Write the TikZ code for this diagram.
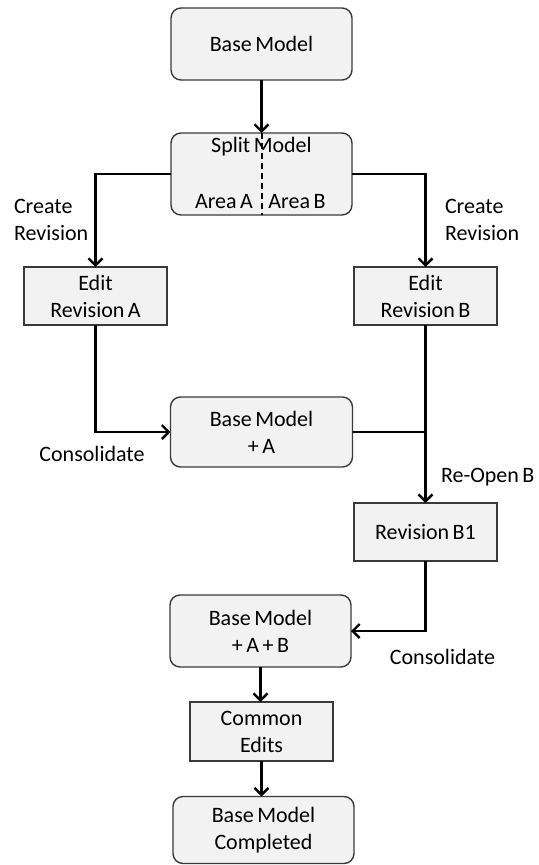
\documentclass[tikz,border=0pt]{standalone}
\usepackage{fontspec}
\setmainfont{Carlito}[WordSpace=0.7]
\usetikzlibrary{arrows.meta}
\definecolor{boxfill}{HTML}{F2F2F2}
\definecolor{boxline}{HTML}{3A3A3A}
\begin{document}
\begin{tikzpicture}[x=1bp,y=-1bp,
  every node/.style={font=\fontsize{22bp}{27bp}\selectfont, text=black, inner sep=0pt, outer sep=0pt},
  rbox/.style={draw=boxline, fill=boxfill, line width=1.4bp, rounded corners=10bp, align=center, minimum width=181bp, minimum height=72bp},
  sbox/.style={draw=boxline, fill=boxfill, line width=1.4bp, align=center, minimum width=143bp, minimum height=58bp},
  conn/.style={line width=2.4bp, draw=black},
  arr/.style={conn, -{Straight Barb[length=7bp,width=14bp]}},
  divline/.style={line width=2bp, draw=black, dash pattern=on 6bp off 4bp},
  lbl/.style={align=left}
]
\useasboundingbox (0,0) rectangle (539,865);

\node[rbox] (base) at (261.5,44) {Base Model};
\node[rbox, minimum height=82bp] (split) at (261.5,174) {};
\node (splitT) at (261.5,147) {Split Model};
\node (areaA) at (224,202) {Area A};
\node (areaB) at (297,202) {Area B};
\draw[divline] (split.north) -- (split.south);

\node[sbox] (editA) at (95.5,296) {Edit\\Revision A};
\node[sbox] (editB) at (425.5,296) {Edit\\Revision B};
\node[rbox, minimum width=182bp, minimum height=70bp] (baseA) at (261.5,432) {Base Model\\+ A};
\node[sbox] (revB1) at (425.5,532) {Revision B1};
\node[rbox] (baseAB) at (260.5,631) {Base Model\\+ A + B};
\node[sbox, minimum height=59bp] (common) at (261.5,731.5) {Common\\Edits};
\node[rbox, minimum height=67bp] (done) at (263.5,830) {Base Model\\Completed};

\node[lbl, anchor=west] (crA) at (14,220) {Create\\Revision};
\node[lbl, anchor=west] (crB) at (445,220) {Create\\Revision};
\node (consA) at (92,454) {Consolidate};
\node[anchor=west] (reopen) at (441,477) {Re-Open B};
\node (consB) at (442.5,657) {Consolidate};

\draw[arr] (base.south) -- (split.north);
\draw[arr] (split.west) -| (editA.north);
\draw[arr] (split.east) -| (editB.north);
\draw[arr] (editA.south) |- (baseA.west);
\draw[conn] (baseA.east) -- (baseA.east -| editB.south);
\draw[arr] (editB.south) -- (revB1.north);
\draw[arr] (revB1.south) |- (baseAB.east);
\draw[arr] (baseAB.south) -- (baseAB.south |- common.north);
\draw[arr] (common.south) -- (common.south |- done.north);
\end{tikzpicture}
\end{document}
